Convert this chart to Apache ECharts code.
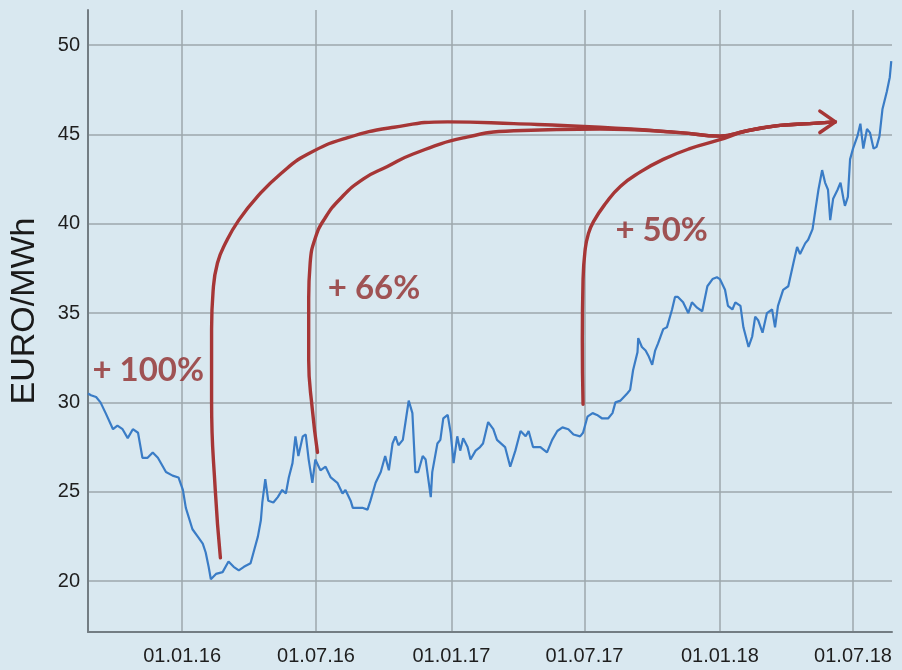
<!DOCTYPE html>
<html><head><meta charset="utf-8">
<script src="https://cdn.jsdelivr.net/npm/echarts@6/dist/echarts.min.js"></script>
<style>html,body{margin:0;padding:0;background:#d9e8f0;}#c{width:902px;height:670px;}</style>
</head><body><div id="c"></div>
<script>
const dates = ['2015-08-26','2015-08-30','2015-09-06','2015-09-12','2015-09-19','2015-09-29','2015-10-05','2015-10-12','2015-10-19','2015-10-26',
'2015-11-02','2015-11-08','2015-11-15','2015-11-22','2015-11-29','2015-12-10','2015-12-19','2015-12-27','2016-01-02','2016-01-06',
'2016-01-15','2016-01-22','2016-01-29','2016-02-02','2016-02-06','2016-02-09','2016-02-16','2016-02-25','2016-03-04','2016-03-11',
'2016-03-18','2016-03-25','2016-04-03','2016-04-07','2016-04-13','2016-04-17','2016-04-19','2016-04-23','2016-04-27','2016-05-04',
'2016-05-10','2016-05-16','2016-05-21','2016-05-25','2016-05-30','2016-06-03','2016-06-07','2016-06-13','2016-06-17','2016-06-21',
'2016-06-26','2016-06-30','2016-07-07','2016-07-14','2016-07-21','2016-07-30','2016-08-06','2016-08-10','2016-08-17','2016-08-20',
'2016-08-26','2016-09-02','2016-09-09','2016-09-13','2016-09-20','2016-09-27','2016-10-03','2016-10-08','2016-10-13','2016-10-17',
'2016-10-21','2016-10-27','2016-10-31','2016-11-04','2016-11-09','2016-11-13','2016-11-17','2016-11-23','2016-11-27','2016-12-04',
'2016-12-06','2016-12-13','2016-12-17','2016-12-21','2016-12-27','2016-12-31','2017-01-04','2017-01-09','2017-01-13','2017-01-17',
'2017-01-23','2017-01-27','2017-02-03','2017-02-09','2017-02-13','2017-02-20','2017-02-27','2017-03-04','2017-03-15','2017-03-22',
'2017-03-29','2017-04-05','2017-04-12','2017-04-16','2017-04-22','2017-05-02','2017-05-11','2017-05-18','2017-05-25','2017-06-01',
'2017-06-09','2017-06-16','2017-06-25','2017-06-29','2017-07-05','2017-07-12','2017-07-18','2017-07-25','2017-08-02','2017-08-08',
'2017-08-12','2017-08-19','2017-08-28','2017-09-01','2017-09-05','2017-09-11','2017-09-12','2017-09-17','2017-09-22','2017-09-26',
'2017-10-01','2017-10-05','2017-10-09','2017-10-16','2017-10-21','2017-10-28','2017-11-01','2017-11-05','2017-11-12','2017-11-19',
'2017-11-24','2017-12-01','2017-12-08','2017-12-15','2017-12-22','2017-12-28','2018-01-01','2018-01-08','2018-01-12','2018-01-18',
'2018-01-22','2018-01-29','2018-02-02','2018-02-09','2018-02-14','2018-02-18','2018-02-22','2018-02-28','2018-03-06','2018-03-13',
'2018-03-17','2018-03-21','2018-03-28','2018-04-04','2018-04-11','2018-04-16','2018-04-20','2018-04-27','2018-05-01','2018-05-07',
'2018-05-11','2018-05-15','2018-05-20','2018-05-24','2018-05-28','2018-05-31','2018-06-04','2018-06-10','2018-06-14','2018-06-18',
'2018-06-20','2018-06-24','2018-06-27','2018-07-01','2018-07-07','2018-07-11','2018-07-15','2018-07-20','2018-07-24','2018-07-29',
'2018-08-02','2018-08-06','2018-08-10','2018-08-16','2018-08-20','2018-08-22'];
const prices = [30.5,30.4,30.3,30.0,29.4,28.5,28.7,28.5,28.0,28.5,
28.3,26.9,26.9,27.2,26.9,26.1,25.9,25.8,25.1,24.1,
22.9,22.5,22.1,21.6,20.8,20.1,20.4,20.5,21.1,20.8,
20.6,20.8,21.0,21.6,22.5,23.4,24.4,25.7,24.5,24.4,
24.7,25.1,24.9,25.8,26.6,28.1,27.0,28.1,28.2,26.8,
25.5,26.8,26.2,26.4,25.8,25.5,24.9,25.1,24.5,24.1,
24.1,24.1,24.0,24.5,25.5,26.1,27.0,26.2,27.7,28.1,
27.6,27.9,29.0,30.1,29.4,26.1,26.1,27.0,26.8,24.7,
26.1,27.7,27.9,29.1,29.3,28.3,26.6,28.1,27.3,28.0,
27.5,26.8,27.3,27.5,27.7,28.9,28.5,27.9,27.5,26.4,
27.3,28.4,28.1,28.4,27.5,27.5,27.2,27.9,28.4,28.6,
28.5,28.2,28.1,28.3,29.2,29.4,29.3,29.1,29.1,29.4,
30.0,30.1,30.5,30.7,31.8,32.8,33.6,33.1,32.9,32.6,
32.1,32.9,33.3,34.1,34.2,35.2,35.9,35.9,35.6,35.0,
35.6,35.3,35.1,36.5,36.9,37.0,36.9,36.3,35.4,35.2,
35.6,35.4,34.2,33.1,33.7,34.8,34.6,33.9,35.0,35.2,
34.2,35.4,36.3,36.5,37.8,38.7,38.3,38.9,39.1,39.7,
40.8,41.9,43.0,42.3,41.9,40.2,41.4,41.9,42.3,41.4,
41.0,41.5,43.6,44.2,44.9,45.6,44.2,45.3,45.1,44.2,
44.3,44.9,46.4,47.4,48.2,49.1];

const xTicks = ['2016-01-01','2016-07-01','2017-01-01','2017-07-01','2018-01-01','2018-07-01'];
const xRange = ['2015-08-26','2018-08-23'];
const yTicks = [20,25,30,35,40,45,50];
const yAxisName = 'EURO/MWh';

// annotation arrows (date, EUR/MWh)
const arrow100 = [['2016-02-22',21.3],['2016-02-15',25.1],['2016-02-10',30.1],['2016-02-10',34.1],['2016-02-12',36.2],
  ['2016-02-18',37.8],['2016-03-01',39.0],['2016-03-18',40.2],['2016-04-12',41.5],['2016-05-14',42.8],['2016-06-20',43.9],
  ['2016-08-12',44.8],['2016-10-15',45.4],['2016-12-27',45.7],['2017-03-27',45.6],['2017-07-22',45.4],['2017-11-08',45.1],['2018-01-01',44.9]];
const arrow66 = [['2016-07-03',27.2],['2016-06-26',29.6],['2016-06-21',32.4],['2016-06-21',35.8],['2016-06-23',37.8],
  ['2016-06-30',39.2],['2016-07-13',40.3],['2016-08-03',41.4],['2016-09-03',42.5],['2016-10-06',43.2],['2016-11-10',43.9],
  ['2017-01-17',44.8],['2017-03-27',45.2],['2017-07-22',45.3],['2017-11-08',45.1],['2018-01-01',44.9]];
const arrow50 = [['2017-06-29',29.9],['2017-06-28',33.5],['2017-06-29',36.9],['2017-07-02',38.6],['2017-07-06',39.4],
  ['2017-07-13',40.1],['2017-07-29',41.1],['2017-08-19',42.1],['2017-09-15',42.9],['2017-10-16',43.6],['2017-11-21',44.2],['2018-01-01',44.7]];
const arrowTail = [['2018-02-07',45.2],['2018-03-24',45.5],['2018-05-03',45.6],['2018-06-07',45.7]];
const arrowHead = [['2018-05-17',46.3],['2018-06-07',45.7],['2018-05-17',45.1]];

const gainLabels = ['+ 100%','+ 66%','+ 50%'];
const gainLabelAt = [['2015-09-01',31.8],['2016-07-17',36.4],['2017-08-12',39.6]];

const ts = s => Date.UTC(+s.slice(0, 4), +s.slice(5, 7) - 1, +s.slice(8, 10));
const pts = arr => arr.map(p => [ts(p[0]), p[1]]);
const RED = '#a63636';
const pad = n => (n < 10 ? '0' : '') + n;
const chart = echarts.init(document.getElementById('c'));
const curve = arr => ({
  type: 'line', data: pts(arr), smooth: 0.5, symbol: 'none', silent: true, z: 5,
  lineStyle: { color: RED, width: 3.4, cap: 'round', join: 'round' }
});
chart.setOption({
  backgroundColor: '#d9e8f0',
  animation: false,
  grid: { left: 87, right: 10, top: 10, bottom: 38 },
  xAxis: {
    type: 'value', min: ts(xRange[0]), max: ts(xRange[1]),
    axisLine: { show: true, lineStyle: { color: '#737d83', width: 2 } },
    axisTick: { show: false, customValues: xTicks.map(ts) },
    axisLabel: {
      customValues: xTicks.map(ts), margin: 14, fontSize: 20, color: '#1e1e1e', fontFamily: 'Liberation Sans',
      formatter: v => { const d = new Date(v); return pad(d.getUTCDate()) + '.' + pad(d.getUTCMonth() + 1) + '.' + String(d.getUTCFullYear()).slice(2); }
    },
    splitLine: { show: true, lineStyle: { color: '#9da7ad', width: 1.5 } }
  },
  yAxis: {
    type: 'value', min: 17.15, max: 51.96,
    name: yAxisName, nameLocation: 'middle', nameGap: 46, nameRotate: 90,
    nameTextStyle: { fontSize: 34, color: '#1a1a1a', fontFamily: 'Liberation Sans', padding: [0, 0, 0, 20] },
    axisLine: { show: true, lineStyle: { color: '#737d83', width: 2 } },
    axisTick: { show: false, customValues: yTicks },
    axisLabel: { customValues: yTicks, margin: 8, fontSize: 20, color: '#1e1e1e', fontFamily: 'Liberation Sans' },
    splitLine: { show: true, lineStyle: { color: '#9da7ad', width: 1.5 } }
  },
  series: [
    {
      type: 'line', data: dates.map((d, i) => [ts(d), prices[i]]), symbol: 'none', silent: true, z: 4,
      lineStyle: { color: '#3a7cc6', width: 2.2 }
    },
    curve(arrow100.concat(arrowTail)),
    curve(arrow66.concat(arrowTail)),
    curve(arrow50.concat(arrowTail)),
    { type: 'line', data: pts(arrowHead), symbol: 'none', silent: true, z: 6,
      lineStyle: { color: RED, width: 3.6, cap: 'round', join: 'round' } },
    {
      type: 'scatter', symbolSize: 0, silent: true, z: 7,
      data: gainLabelAt.map((p, i) => ({ value: [ts(p[0]), p[1]], name: gainLabels[i] })),
      label: { show: true, position: 'right', distance: 0, formatter: p => p.name,
        fontSize: 33, fontWeight: 'bold', color: '#902c2c', fontFamily: 'Lato' }
    }
  ]
});
</script></body></html>
